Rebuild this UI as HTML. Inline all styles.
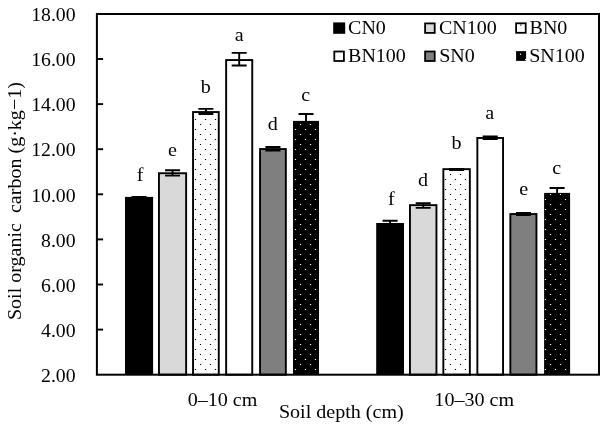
<!DOCTYPE html>
<html lang="en"><head><meta charset="utf-8"><title>Soil organic carbon</title>
<style>html,body{margin:0;padding:0;background:#fff}svg{display:block;will-change:transform}text{font-family:"Liberation Serif", "DejaVu Serif", serif;font-size:19px;fill:#000}</style></head><body>
<svg width="606" height="427" viewBox="0 0 606 427">
<rect width="606" height="427" fill="#fff"/>
<rect x="125.00" y="196.90" width="28.10" height="177.80" fill="#000"/>
<path d="M131.55 196.90H146.55M139.05 196.90V197.40" stroke="#000" stroke-width="1.9" fill="none"/>
<rect x="158.95" y="173.25" width="27.20" height="201.45" fill="#d9d9d9" stroke="#000" stroke-width="1.9"/>
<path d="M165.05 170.30H180.05M172.55 170.30V175.60M165.05 175.60H180.05" stroke="#000" stroke-width="1.9" fill="none"/>
<rect x="193.05" y="112.05" width="25.70" height="262.65" fill="#fff" stroke="#000" stroke-width="1.9"/>
<path d="M194.9 119.5h1.2M204.9 119.5h1.2M214.9 119.5h1.2M199.9 124.5h1.2M209.9 124.5h1.2M194.9 129.5h1.2M204.9 129.5h1.2M214.9 129.5h1.2M199.9 134.5h1.2M209.9 134.5h1.2M194.9 139.5h1.2M204.9 139.5h1.2M214.9 139.5h1.2M199.9 144.5h1.2M209.9 144.5h1.2M194.9 149.5h1.2M204.9 149.5h1.2M214.9 149.5h1.2M199.9 154.5h1.2M209.9 154.5h1.2M194.9 159.5h1.2M204.9 159.5h1.2M214.9 159.5h1.2M199.9 164.5h1.2M209.9 164.5h1.2M194.9 169.5h1.2M204.9 169.5h1.2M214.9 169.5h1.2M199.9 174.5h1.2M209.9 174.5h1.2M194.9 179.5h1.2M204.9 179.5h1.2M214.9 179.5h1.2M199.9 184.5h1.2M209.9 184.5h1.2M194.9 189.5h1.2M204.9 189.5h1.2M214.9 189.5h1.2M199.9 194.5h1.2M209.9 194.5h1.2M194.9 199.5h1.2M204.9 199.5h1.2M214.9 199.5h1.2M199.9 204.5h1.2M209.9 204.5h1.2M194.9 209.5h1.2M204.9 209.5h1.2M214.9 209.5h1.2M199.9 214.5h1.2M209.9 214.5h1.2M194.9 219.5h1.2M204.9 219.5h1.2M214.9 219.5h1.2M199.9 224.5h1.2M209.9 224.5h1.2M194.9 229.5h1.2M204.9 229.5h1.2M214.9 229.5h1.2M199.9 234.5h1.2M209.9 234.5h1.2M194.9 239.5h1.2M204.9 239.5h1.2M214.9 239.5h1.2M199.9 244.5h1.2M209.9 244.5h1.2M194.9 249.5h1.2M204.9 249.5h1.2M214.9 249.5h1.2M199.9 254.5h1.2M209.9 254.5h1.2M194.9 259.5h1.2M204.9 259.5h1.2M214.9 259.5h1.2M199.9 264.5h1.2M209.9 264.5h1.2M194.9 269.5h1.2M204.9 269.5h1.2M214.9 269.5h1.2M199.9 274.5h1.2M209.9 274.5h1.2M194.9 279.5h1.2M204.9 279.5h1.2M214.9 279.5h1.2M199.9 284.5h1.2M209.9 284.5h1.2M194.9 289.5h1.2M204.9 289.5h1.2M214.9 289.5h1.2M199.9 294.5h1.2M209.9 294.5h1.2M194.9 299.5h1.2M204.9 299.5h1.2M214.9 299.5h1.2M199.9 304.5h1.2M209.9 304.5h1.2M194.9 309.5h1.2M204.9 309.5h1.2M214.9 309.5h1.2M199.9 314.5h1.2M209.9 314.5h1.2M194.9 319.5h1.2M204.9 319.5h1.2M214.9 319.5h1.2M199.9 324.5h1.2M209.9 324.5h1.2M194.9 329.5h1.2M204.9 329.5h1.2M214.9 329.5h1.2M199.9 334.5h1.2M209.9 334.5h1.2M194.9 339.5h1.2M204.9 339.5h1.2M214.9 339.5h1.2M199.9 344.5h1.2M209.9 344.5h1.2M194.9 349.5h1.2M204.9 349.5h1.2M214.9 349.5h1.2M199.9 354.5h1.2M209.9 354.5h1.2M194.9 359.5h1.2M204.9 359.5h1.2M214.9 359.5h1.2M199.9 364.5h1.2M209.9 364.5h1.2M194.9 369.5h1.2M204.9 369.5h1.2M214.9 369.5h1.2" stroke="#000" stroke-width="1.2" fill="none"/>
<path d="M198.40 108.90H213.40M205.90 108.90V114.00M198.40 114.00H213.40" stroke="#000" stroke-width="1.9" fill="none"/>
<rect x="226.15" y="60.05" width="26.10" height="314.65" fill="#fff" stroke="#000" stroke-width="1.9"/>
<path d="M231.70 52.90H246.70M239.20 52.90V65.50M231.70 65.50H246.70" stroke="#000" stroke-width="1.9" fill="none"/>
<rect x="260.05" y="149.05" width="25.80" height="225.65" fill="#7f7f7f" stroke="#000" stroke-width="1.9"/>
<path d="M265.45 147.00H280.45M272.95 147.00V150.60M265.45 150.60H280.45" stroke="#000" stroke-width="1.9" fill="none"/>
<rect x="293.00" y="120.90" width="26.00" height="253.80" fill="#000"/>
<path d="M299.9 124.5h1.2M309.9 124.5h1.2M294.9 129.5h1.2M304.9 129.5h1.2M314.9 129.5h1.2M299.9 134.5h1.2M309.9 134.5h1.2M294.9 139.5h1.2M304.9 139.5h1.2M314.9 139.5h1.2M299.9 144.5h1.2M309.9 144.5h1.2M294.9 149.5h1.2M304.9 149.5h1.2M314.9 149.5h1.2M299.9 154.5h1.2M309.9 154.5h1.2M294.9 159.5h1.2M304.9 159.5h1.2M314.9 159.5h1.2M299.9 164.5h1.2M309.9 164.5h1.2M294.9 169.5h1.2M304.9 169.5h1.2M314.9 169.5h1.2M299.9 174.5h1.2M309.9 174.5h1.2M294.9 179.5h1.2M304.9 179.5h1.2M314.9 179.5h1.2M299.9 184.5h1.2M309.9 184.5h1.2M294.9 189.5h1.2M304.9 189.5h1.2M314.9 189.5h1.2M299.9 194.5h1.2M309.9 194.5h1.2M294.9 199.5h1.2M304.9 199.5h1.2M314.9 199.5h1.2M299.9 204.5h1.2M309.9 204.5h1.2M294.9 209.5h1.2M304.9 209.5h1.2M314.9 209.5h1.2M299.9 214.5h1.2M309.9 214.5h1.2M294.9 219.5h1.2M304.9 219.5h1.2M314.9 219.5h1.2M299.9 224.5h1.2M309.9 224.5h1.2M294.9 229.5h1.2M304.9 229.5h1.2M314.9 229.5h1.2M299.9 234.5h1.2M309.9 234.5h1.2M294.9 239.5h1.2M304.9 239.5h1.2M314.9 239.5h1.2M299.9 244.5h1.2M309.9 244.5h1.2M294.9 249.5h1.2M304.9 249.5h1.2M314.9 249.5h1.2M299.9 254.5h1.2M309.9 254.5h1.2M294.9 259.5h1.2M304.9 259.5h1.2M314.9 259.5h1.2M299.9 264.5h1.2M309.9 264.5h1.2M294.9 269.5h1.2M304.9 269.5h1.2M314.9 269.5h1.2M299.9 274.5h1.2M309.9 274.5h1.2M294.9 279.5h1.2M304.9 279.5h1.2M314.9 279.5h1.2M299.9 284.5h1.2M309.9 284.5h1.2M294.9 289.5h1.2M304.9 289.5h1.2M314.9 289.5h1.2M299.9 294.5h1.2M309.9 294.5h1.2M294.9 299.5h1.2M304.9 299.5h1.2M314.9 299.5h1.2M299.9 304.5h1.2M309.9 304.5h1.2M294.9 309.5h1.2M304.9 309.5h1.2M314.9 309.5h1.2M299.9 314.5h1.2M309.9 314.5h1.2M294.9 319.5h1.2M304.9 319.5h1.2M314.9 319.5h1.2M299.9 324.5h1.2M309.9 324.5h1.2M294.9 329.5h1.2M304.9 329.5h1.2M314.9 329.5h1.2M299.9 334.5h1.2M309.9 334.5h1.2M294.9 339.5h1.2M304.9 339.5h1.2M314.9 339.5h1.2M299.9 344.5h1.2M309.9 344.5h1.2M294.9 349.5h1.2M304.9 349.5h1.2M314.9 349.5h1.2M299.9 354.5h1.2M309.9 354.5h1.2M294.9 359.5h1.2M304.9 359.5h1.2M314.9 359.5h1.2M299.9 364.5h1.2M309.9 364.5h1.2M294.9 369.5h1.2M304.9 369.5h1.2M314.9 369.5h1.2" stroke="#fff" stroke-width="1.2" fill="none"/>
<path d="M298.50 114.00H313.50M306.00 114.00V121.40" stroke="#000" stroke-width="1.9" fill="none"/>
<rect x="376.20" y="223.00" width="27.80" height="151.70" fill="#000"/>
<path d="M382.60 220.70H397.60M390.10 220.70V223.50" stroke="#000" stroke-width="1.9" fill="none"/>
<rect x="409.95" y="205.15" width="26.50" height="169.55" fill="#d9d9d9" stroke="#000" stroke-width="1.9"/>
<path d="M415.70 203.20H430.70M423.20 203.20V207.90M415.70 207.90H430.70" stroke="#000" stroke-width="1.9" fill="none"/>
<rect x="443.35" y="169.15" width="26.50" height="205.55" fill="#fff" stroke="#000" stroke-width="1.9"/>
<path d="M449.9 174.5h1.2M459.9 174.5h1.2M444.9 179.5h1.2M454.9 179.5h1.2M464.9 179.5h1.2M449.9 184.5h1.2M459.9 184.5h1.2M444.9 189.5h1.2M454.9 189.5h1.2M464.9 189.5h1.2M449.9 194.5h1.2M459.9 194.5h1.2M444.9 199.5h1.2M454.9 199.5h1.2M464.9 199.5h1.2M449.9 204.5h1.2M459.9 204.5h1.2M444.9 209.5h1.2M454.9 209.5h1.2M464.9 209.5h1.2M449.9 214.5h1.2M459.9 214.5h1.2M444.9 219.5h1.2M454.9 219.5h1.2M464.9 219.5h1.2M449.9 224.5h1.2M459.9 224.5h1.2M444.9 229.5h1.2M454.9 229.5h1.2M464.9 229.5h1.2M449.9 234.5h1.2M459.9 234.5h1.2M444.9 239.5h1.2M454.9 239.5h1.2M464.9 239.5h1.2M449.9 244.5h1.2M459.9 244.5h1.2M444.9 249.5h1.2M454.9 249.5h1.2M464.9 249.5h1.2M449.9 254.5h1.2M459.9 254.5h1.2M444.9 259.5h1.2M454.9 259.5h1.2M464.9 259.5h1.2M449.9 264.5h1.2M459.9 264.5h1.2M444.9 269.5h1.2M454.9 269.5h1.2M464.9 269.5h1.2M449.9 274.5h1.2M459.9 274.5h1.2M444.9 279.5h1.2M454.9 279.5h1.2M464.9 279.5h1.2M449.9 284.5h1.2M459.9 284.5h1.2M444.9 289.5h1.2M454.9 289.5h1.2M464.9 289.5h1.2M449.9 294.5h1.2M459.9 294.5h1.2M444.9 299.5h1.2M454.9 299.5h1.2M464.9 299.5h1.2M449.9 304.5h1.2M459.9 304.5h1.2M444.9 309.5h1.2M454.9 309.5h1.2M464.9 309.5h1.2M449.9 314.5h1.2M459.9 314.5h1.2M444.9 319.5h1.2M454.9 319.5h1.2M464.9 319.5h1.2M449.9 324.5h1.2M459.9 324.5h1.2M444.9 329.5h1.2M454.9 329.5h1.2M464.9 329.5h1.2M449.9 334.5h1.2M459.9 334.5h1.2M444.9 339.5h1.2M454.9 339.5h1.2M464.9 339.5h1.2M449.9 344.5h1.2M459.9 344.5h1.2M444.9 349.5h1.2M454.9 349.5h1.2M464.9 349.5h1.2M449.9 354.5h1.2M459.9 354.5h1.2M444.9 359.5h1.2M454.9 359.5h1.2M464.9 359.5h1.2M449.9 364.5h1.2M459.9 364.5h1.2M444.9 369.5h1.2M454.9 369.5h1.2M464.9 369.5h1.2" stroke="#000" stroke-width="1.2" fill="none"/>
<path d="M449.10 168.90H464.10M456.60 168.90V170.00M449.10 170.00H464.10" stroke="#000" stroke-width="1.9" fill="none"/>
<rect x="477.35" y="137.95" width="25.70" height="236.75" fill="#fff" stroke="#000" stroke-width="1.9"/>
<path d="M482.70 136.50H497.70M490.20 136.50V139.00M482.70 139.00H497.70" stroke="#000" stroke-width="1.9" fill="none"/>
<rect x="510.35" y="214.05" width="26.10" height="160.65" fill="#7f7f7f" stroke="#000" stroke-width="1.9"/>
<path d="M515.90 213.00H530.90M523.40 213.00V215.00M515.90 215.00H530.90" stroke="#000" stroke-width="1.9" fill="none"/>
<rect x="544.10" y="192.90" width="26.00" height="181.80" fill="#000"/>
<path d="M549.9 194.5h1.2M559.9 194.5h1.2M544.9 199.5h1.2M564.9 199.5h1.2M549.9 204.5h1.2M559.9 204.5h1.2M544.9 209.5h1.2M554.9 209.5h1.2M564.9 209.5h1.2M549.9 214.5h1.2M559.9 214.5h1.2M544.9 219.5h1.2M554.9 219.5h1.2M564.9 219.5h1.2M549.9 224.5h1.2M559.9 224.5h1.2M544.9 229.5h1.2M554.9 229.5h1.2M564.9 229.5h1.2M549.9 234.5h1.2M559.9 234.5h1.2M544.9 239.5h1.2M554.9 239.5h1.2M564.9 239.5h1.2M549.9 244.5h1.2M559.9 244.5h1.2M544.9 249.5h1.2M554.9 249.5h1.2M564.9 249.5h1.2M549.9 254.5h1.2M559.9 254.5h1.2M544.9 259.5h1.2M554.9 259.5h1.2M564.9 259.5h1.2M549.9 264.5h1.2M559.9 264.5h1.2M544.9 269.5h1.2M554.9 269.5h1.2M564.9 269.5h1.2M549.9 274.5h1.2M559.9 274.5h1.2M544.9 279.5h1.2M554.9 279.5h1.2M564.9 279.5h1.2M549.9 284.5h1.2M559.9 284.5h1.2M544.9 289.5h1.2M554.9 289.5h1.2M564.9 289.5h1.2M549.9 294.5h1.2M559.9 294.5h1.2M544.9 299.5h1.2M554.9 299.5h1.2M564.9 299.5h1.2M549.9 304.5h1.2M559.9 304.5h1.2M544.9 309.5h1.2M554.9 309.5h1.2M564.9 309.5h1.2M549.9 314.5h1.2M559.9 314.5h1.2M544.9 319.5h1.2M554.9 319.5h1.2M564.9 319.5h1.2M549.9 324.5h1.2M559.9 324.5h1.2M544.9 329.5h1.2M554.9 329.5h1.2M564.9 329.5h1.2M549.9 334.5h1.2M559.9 334.5h1.2M544.9 339.5h1.2M554.9 339.5h1.2M564.9 339.5h1.2M549.9 344.5h1.2M559.9 344.5h1.2M544.9 349.5h1.2M554.9 349.5h1.2M564.9 349.5h1.2M549.9 354.5h1.2M559.9 354.5h1.2M544.9 359.5h1.2M554.9 359.5h1.2M564.9 359.5h1.2M549.9 364.5h1.2M559.9 364.5h1.2M544.9 369.5h1.2M554.9 369.5h1.2M564.9 369.5h1.2" stroke="#fff" stroke-width="1.2" fill="none"/>
<path d="M549.60 188.00H564.60M557.10 188.00V193.40" stroke="#000" stroke-width="1.9" fill="none"/>
<rect x="96.90" y="14.00" width="502.10" height="360.70" fill="none" stroke="#000" stroke-width="2"/>
<text transform="translate(75.60 381.90) scale(1.040 1)" text-anchor="end">2.00</text>
<path d="M96.90 329.60h6.2" stroke="#000" stroke-width="1.9"/>
<text transform="translate(75.60 336.80) scale(1.040 1)" text-anchor="end">4.00</text>
<path d="M96.90 284.50h6.2" stroke="#000" stroke-width="1.9"/>
<text transform="translate(75.60 291.70) scale(1.040 1)" text-anchor="end">6.00</text>
<path d="M96.90 239.40h6.2" stroke="#000" stroke-width="1.9"/>
<text transform="translate(75.60 246.60) scale(1.040 1)" text-anchor="end">8.00</text>
<path d="M96.90 194.30h6.2" stroke="#000" stroke-width="1.9"/>
<text transform="translate(75.60 201.50) scale(1.040 1)" text-anchor="end">10.00</text>
<path d="M96.90 149.20h6.2" stroke="#000" stroke-width="1.9"/>
<text transform="translate(75.60 156.40) scale(1.040 1)" text-anchor="end">12.00</text>
<path d="M96.90 104.10h6.2" stroke="#000" stroke-width="1.9"/>
<text transform="translate(75.60 111.30) scale(1.040 1)" text-anchor="end">14.00</text>
<path d="M96.90 59.00h6.2" stroke="#000" stroke-width="1.9"/>
<text transform="translate(75.60 66.20) scale(1.040 1)" text-anchor="end">16.00</text>
<text transform="translate(75.60 21.10) scale(1.040 1)" text-anchor="end">18.00</text>
<text transform="translate(140.10 181.00) scale(1.057 1)" text-anchor="middle">f</text>
<text transform="translate(172.50 155.80) scale(1.057 1)" text-anchor="middle">e</text>
<text transform="translate(205.80 93.40) scale(1.057 1)" text-anchor="middle">b</text>
<text transform="translate(239.20 41.30) scale(1.057 1)" text-anchor="middle">a</text>
<text transform="translate(272.70 129.90) scale(1.057 1)" text-anchor="middle">d</text>
<text transform="translate(305.80 101.40) scale(1.057 1)" text-anchor="middle">c</text>
<text transform="translate(391.30 204.80) scale(1.057 1)" text-anchor="middle">f</text>
<text transform="translate(423.10 186.40) scale(1.057 1)" text-anchor="middle">d</text>
<text transform="translate(456.60 149.20) scale(1.057 1)" text-anchor="middle">b</text>
<text transform="translate(489.60 119.00) scale(1.057 1)" text-anchor="middle">a</text>
<text transform="translate(523.60 194.80) scale(1.057 1)" text-anchor="middle">e</text>
<text transform="translate(556.60 173.80) scale(1.057 1)" text-anchor="middle">c</text>
<text transform="translate(20.50 201.10) rotate(-90) scale(1.056 1)" text-anchor="middle" xml:space="preserve">Soil organic  carbon (g·kg−1)</text>
<text transform="translate(222.50 405.70) scale(1.057 1)" text-anchor="middle">0–10 cm</text>
<text transform="translate(474.20 405.70) scale(1.057 1)" text-anchor="middle">10–30 cm</text>
<text transform="translate(341.30 417.60) scale(1.057 1)" text-anchor="middle">Soil depth (cm)</text>
<rect x="333.20" y="22.40" width="12" height="11.4" fill="#000"/>
<text transform="translate(348.10 33.60) scale(1.052 1)" text-anchor="start">CN0</text>
<rect x="425.10" y="23.40" width="9.6" height="9.5" fill="#d9d9d9" stroke="#000" stroke-width="1.8"/>
<text transform="translate(439.00 33.60) scale(1.052 1)" text-anchor="start">CN100</text>
<rect x="516.10" y="23.30" width="9.6" height="9.5" fill="#fff" stroke="#000" stroke-width="1.8"/>
<rect x="520.2" y="24.5" width="1.2" height="1.2" fill="#000"/>
<text transform="translate(529.60 33.60) scale(1.052 1)" text-anchor="start">BN0</text>
<rect x="334.30" y="51.50" width="9.6" height="9.5" fill="#fff" stroke="#000" stroke-width="1.8"/>
<text transform="translate(348.10 62.30) scale(1.052 1)" text-anchor="start">BN100</text>
<rect x="425.10" y="51.50" width="9.6" height="9.5" fill="#7f7f7f" stroke="#000" stroke-width="1.8"/>
<text transform="translate(439.20 62.30) scale(1.052 1)" text-anchor="start">SN0</text>
<rect x="516.1" y="51.1" width="10" height="9.8" fill="#000"/>
<rect x="519.9" y="53.6" width="1.2" height="1.2" fill="#fff"/>
<rect x="525.0" y="59.0" width="1.2" height="1.2" fill="#fff"/>
<text transform="translate(529.20 62.30) scale(1.052 1)" text-anchor="start">SN100</text>
</svg></body></html>
